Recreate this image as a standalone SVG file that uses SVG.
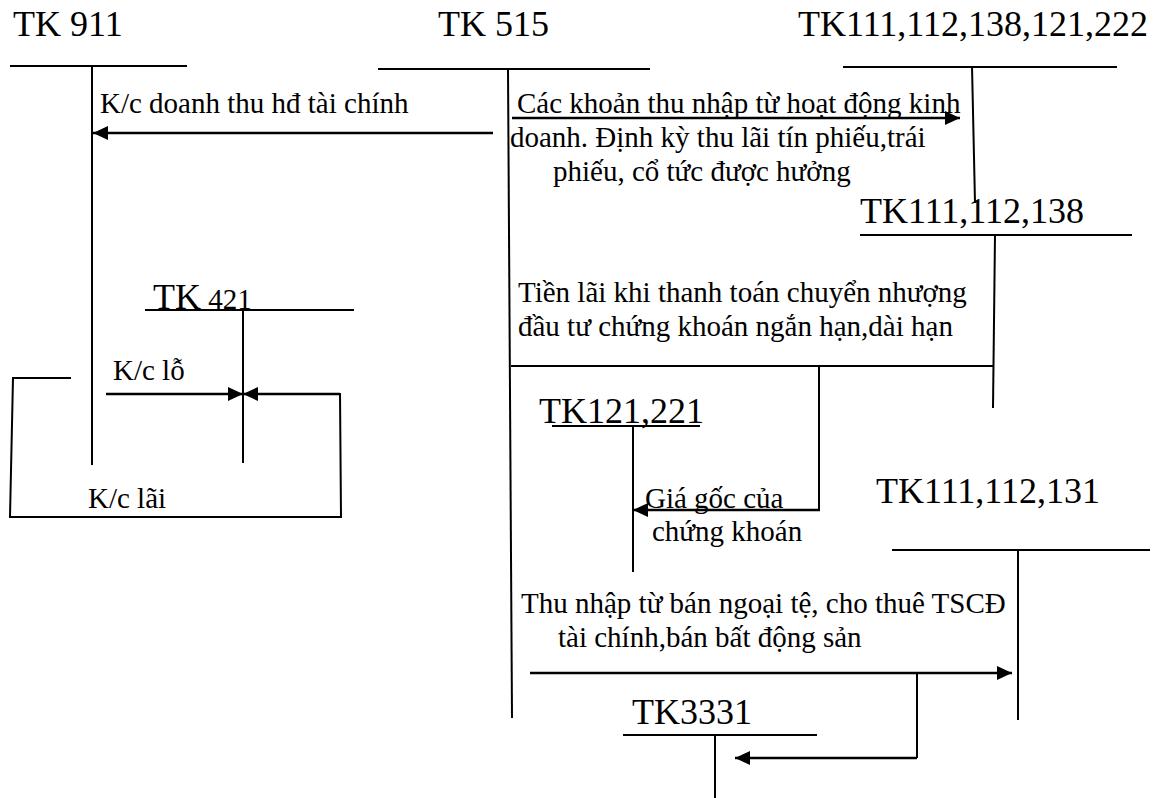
<svg xmlns="http://www.w3.org/2000/svg" width="1172" height="798" viewBox="0 0 1172 798">
<defs>
<style>
.t{font-family:"Liberation Serif","Times New Roman",serif;fill:#000}
.h{font-size:36px}
.l{font-size:29px}
.ln{stroke:#000;stroke-width:2;fill:none}
.ar{stroke:#000;stroke-width:2.5;fill:none;marker-end:url(#ah)}
</style>
<marker id="ah" markerUnits="userSpaceOnUse" markerWidth="16" markerHeight="14" refX="15" refY="7" orient="auto">
<path d="M0,0 L15,7 L0,14 z" fill="#000"/>
</marker>
</defs>
<rect width="1172" height="798" fill="#fff"/>

<g id="tk911">
<text class="t h" x="13" y="36">TK 911</text>
<line class="ln" x1="10" y1="66" x2="187" y2="66"/>
<line class="ln" x1="92" y1="66" x2="92" y2="465"/>
</g>

<g id="tk515">
<text class="t h" x="438" y="36">TK 515</text>
<line class="ln" x1="378" y1="69" x2="650" y2="69"/>
<line class="ln" x1="508" y1="69" x2="512" y2="718"/>
</g>

<g id="tk111_222">
<text class="t h" x="798" y="36">TK111,112,138,121,222</text>
<line class="ln" x1="843" y1="67" x2="1117" y2="67"/>
<line class="ln" x1="972" y1="66" x2="975" y2="203"/>
</g>

<g id="tk111_138">
<text class="t h" x="860" y="223">TK111,112,138</text>
<line class="ln" x1="860" y1="235" x2="1132" y2="235"/>
<line class="ln" x1="995" y1="235" x2="993" y2="408"/>
</g>

<g id="tk421">
<text class="t" x="153" y="309"><tspan font-size="36">TK</tspan><tspan font-size="29"> 421</tspan></text>
<line class="ln" x1="145" y1="310" x2="354" y2="310"/>
<line class="ln" x1="243" y1="310" x2="243" y2="463"/>
</g>

<g id="tk121_221">
<text class="t h" x="539" y="423">TK121,221</text>
<line class="ln" x1="552" y1="426" x2="700" y2="426"/>
<line class="ln" x1="633" y1="426" x2="633" y2="572"/>
</g>

<g id="tk111_131">
<text class="t h" x="876" y="503">TK111,112,131</text>
<line class="ln" x1="892" y1="550" x2="1150" y2="550"/>
<line class="ln" x1="1018" y1="550" x2="1018" y2="720"/>
</g>

<g id="tk3331">
<text class="t h" x="632" y="724">TK3331</text>
<line class="ln" x1="623" y1="735" x2="817" y2="735"/>
<line class="ln" x1="715" y1="735" x2="715" y2="798"/>
</g>

<g id="connectors">
<line class="ar" x1="493" y1="133" x2="93" y2="133"/>
<line class="ar" x1="512" y1="118" x2="960" y2="118"/>
<line class="ln" x1="511" y1="366" x2="993" y2="366"/>
<polyline class="ln" points="819,366 819,510"/>
<line class="ar" x1="820" y1="510" x2="633" y2="510"/>
<line class="ar" x1="530" y1="673" x2="1012" y2="673"/>
<line class="ln" x1="917" y1="673" x2="917" y2="758"/>
<line class="ar" x1="917" y1="758" x2="735" y2="758"/>
<line class="ar" x1="106" y1="394" x2="243" y2="394"/>
<line class="ar" x1="340" y1="394" x2="243" y2="394"/>
<polyline class="ln" points="71,378 13,378 10,517 341,517 340,393"/>
</g>

<g id="labels">
<text class="t l" x="100" y="113">K/c doanh thu hđ tài chính</text>
<text class="t l" x="517" y="113">Các khoản thu nhập từ hoạt động kinh</text>
<text class="t l" x="510" y="147">doanh. Định kỳ thu lãi tín phiếu,trái</text>
<text class="t l" x="553" y="181">phiếu, cổ tức được hưởng</text>
<text class="t l" x="518" y="302">Tiền lãi khi thanh toán chuyển nhượng</text>
<text class="t l" x="518" y="336">đầu tư chứng khoán ngắn hạn,dài hạn</text>
<text class="t l" x="113" y="380">K/c lỗ</text>
<text class="t l" x="88" y="508">K/c lãi</text>
<text class="t l" x="645" y="508">Giá gốc của</text>
<text class="t l" x="652" y="541">chứng khoán</text>
<text class="t l" x="521" y="613">Thu nhập từ bán ngoại tệ, cho thuê TSCĐ</text>
<text class="t l" x="558" y="647">tài chính,bán bất động sản</text>
</g>
</svg>
